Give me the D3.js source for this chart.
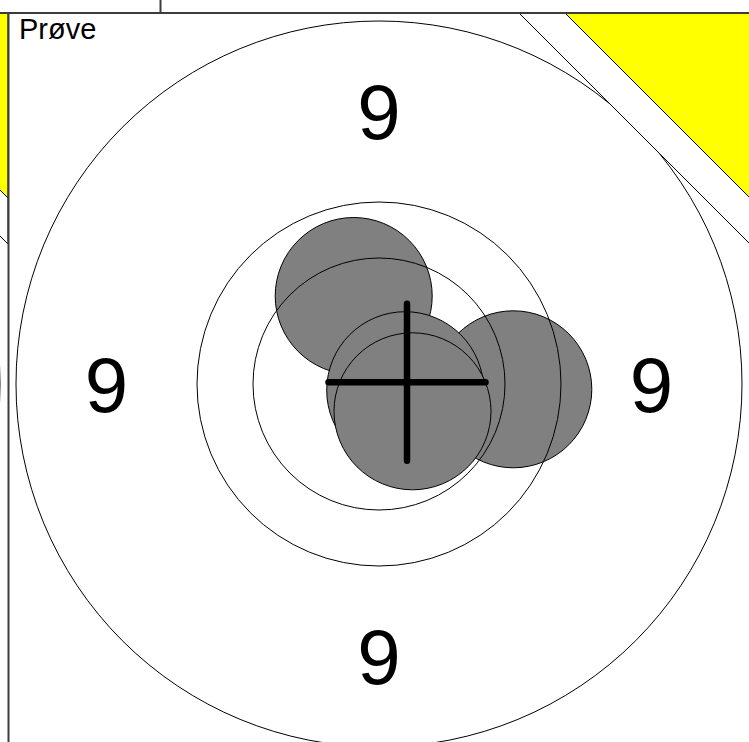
<!doctype html>
<html>
<head>
<style>
  body { margin: 0; background: #fff; }
  svg { display: block; }
  .ring { fill: none; stroke: #000; stroke-width: 1; }
  .shot { fill: #808080; stroke: #000; stroke-width: 1; }
  .lbl { font-family: "Liberation Sans", Arial, sans-serif; font-size: 78px; text-anchor: middle; fill: #000; }
  .title { font-family: "Liberation Sans", Arial, sans-serif; font-size: 29px; fill: #000; }
  .grid { stroke: #3c3c3c; stroke-width: 2; }
  .corner { fill: #fff; stroke: #000; stroke-width: 1; }
  .cornerYellow { fill: #ffff00; stroke: #000; stroke-width: 1; }
</style>
<script src="https://d3js.org/d3.v7.min.js"></script>
</head>
<body>
<svg id="target" width="749" height="742"></svg>
<script>
// target rings (radius, mm) and ring numbers
var ringRadii = [36.3, 18.2, 12.6];
var ringLabels = ["9", "9", "9", "9"];
var labelAngles = [90, 180, 0, 270];
var labelDist = 27.25;

// shots, mm from centre (y up)
var shotX = [-2.53, 13.43, 2.62, 3.35];
var shotY = [8.8, -0.53, -0.62, -2.73];
var shotRadius = 7.85;

// mean point of impact
var mpiX = [2.8];
var mpiY = [0.17];

var title = "Prøve";

var svg = d3.select("#target"),
    W = +svg.attr("width"),
    H = +svg.attr("height"),
    panelSize = 742;

var x = d3.scaleLinear().domain([-37.1, 37.1]).range([0, panelSize]),
    y = d3.scaleLinear().domain([37.1, -37.1]).range([0, panelSize]),
    k = x(1) - x(0);

function drawPanel(px, py, id, withShots) {
    svg.append("clipPath").attr("id", id)
       .append("rect").attr("x", 0).attr("y", 0)
       .attr("width", panelSize).attr("height", panelSize);

    var g = svg.append("g")
        .attr("transform", "translate(" + px + "," + py + ")")
        .attr("clip-path", "url(#" + id + ")");

    g.append("rect").attr("width", panelSize).attr("height", panelSize).attr("fill", "#fff");

    if (withShots) {
        g.selectAll(".shot")
         .data(shotX)
         .enter().append("circle")
         .attr("class", "shot")
         .attr("cx", function(d) { return x(d); })
         .attr("cy", function(d, i) { return y(shotY[i]); })
         .attr("r", shotRadius * k);
    }

    // rings on top of the shots
    g.selectAll(".ring")
     .data(ringRadii)
     .enter().append("circle")
     .attr("class", "ring")
     .attr("cx", x(0))
     .attr("cy", y(0))
     .attr("r", function(d) { return d * k; });

    if (withShots) {
        g.selectAll(".lbl")
         .data(ringLabels)
         .enter().append("text")
         .attr("class", "lbl")
         .attr("x", function(d, i) { return x(labelDist * Math.cos(labelAngles[i] * Math.PI / 180)); })
         .attr("y", function(d, i) { return y(labelDist * Math.sin(labelAngles[i] * Math.PI / 180)); })
         .attr("dy", "0.358em")
         .text(function(d) { return d; });

        // cross at mean point of impact
        var cx = x(mpiX[0]), cy = y(mpiY[0]), arm = shotRadius * k;
        g.append("path")
         .attr("d", "M" + (cx - arm) + "," + cy + "H" + (cx + arm) +
                    "M" + cx + "," + (cy - arm) + "V" + (cy + arm))
         .attr("stroke", "#000")
         .attr("stroke-width", 6.5)
         .attr("stroke-linecap", "round")
         .attr("fill", "none");

        g.append("text")
         .attr("class", "title")
         .attr("x", 11)
         .attr("y", 26)
         .text(title);
    }

    // cut-off corner
    var c1 = 231, c2 = 185;
    g.append("path").attr("class", "corner")
     .attr("d", "M" + (panelSize - c1) + ",0H" + panelSize + "V" + c1 + "Z");
    g.append("path").attr("class", "cornerYellow")
     .attr("d", "M" + (panelSize - c2) + ",0H" + panelSize + "V" + c2 + "Z");
}

drawPanel(8, 13, "clipMain", true);
drawPanel(8 - panelSize, 13, "clipLeft", false);

// panel dividers
svg.append("line").attr("class", "grid").attr("x1", 0).attr("x2", W).attr("y1", 13).attr("y2", 13);
svg.append("line").attr("class", "grid").attr("x1", 8.5).attr("x2", 8.5).attr("y1", 13).attr("y2", H);
svg.append("line").attr("class", "grid").attr("x1", 160.5).attr("x2", 160.5).attr("y1", 0).attr("y2", 13);
</script>
</body>
</html>
